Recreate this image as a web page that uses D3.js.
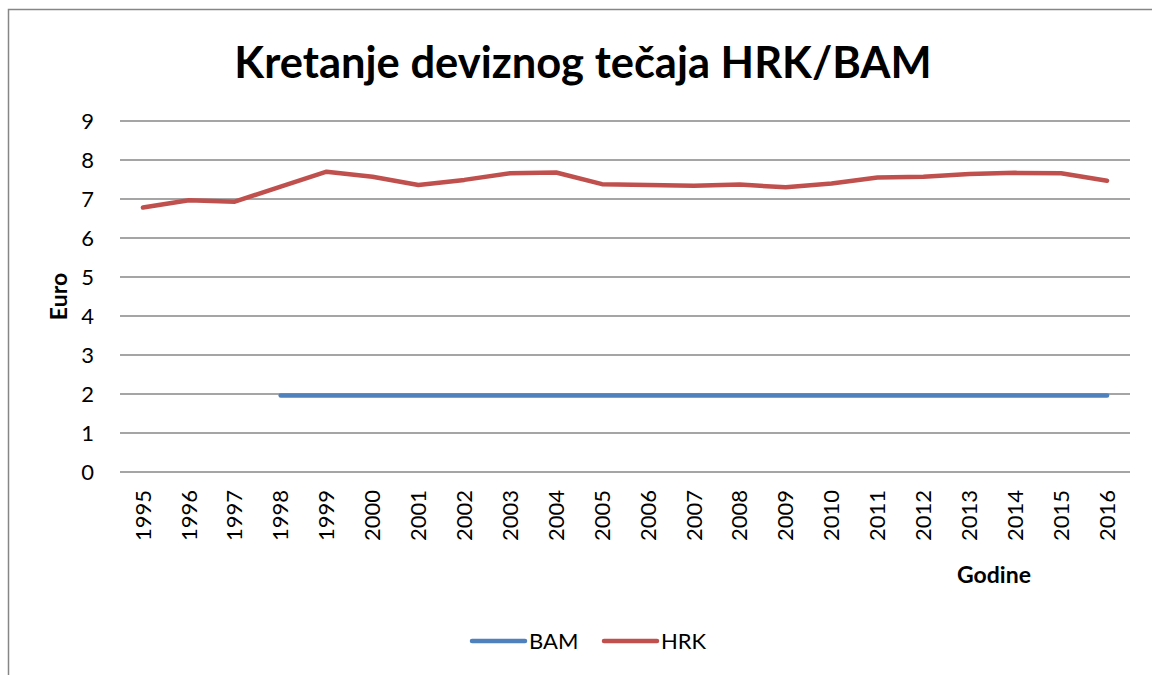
<!DOCTYPE html>
<html>
<head>
<meta charset="utf-8">
<script src="https://cdn.jsdelivr.net/npm/d3@7"></script>
<style>
  body { margin: 0; background: #fff; }
  text { font-family: Lato, "Open Sans", sans-serif; fill: #000; }
</style>
</head>
<body>
<script>
const years = ['1995','1996','1997','1998','1999','2000','2001','2002','2003','2004','2005',
               '2006','2007','2008','2009','2010','2011','2012','2013','2014','2015','2016']
const hrk = [6.78,6.97,6.93,7.32,7.70,7.57,7.36,7.49,7.66,7.68,7.38,
             7.36,7.34,7.37,7.30,7.40,7.55,7.57,7.64,7.67,7.66,7.47]
// BAM is pegged from 1998 on, nothing before
const bam = [null,null,null,1.96,1.96,1.96,1.96,1.96,1.96,1.96,1.96,
             1.96,1.96,1.96,1.96,1.96,1.96,1.96,1.96,1.96,1.96,1.96]
const yTicks = [0,1,2,3,4,5,6,7,8,9]
const seriesNames = ['BAM','HRK']
const colors = {BAM:'#4F81BD', HRK:'#C0504D'}

const W = 1152, H = 675
const margin = {top:121, right:22, bottom:203, left:120}
const width = W - margin.left - margin.right
const height = H - margin.top - margin.bottom

const svg = d3.select('body').append('svg')
      .attr('width', W)
      .attr('height', H)

// outer chart frame (runs off the right and bottom edges)
svg.append('rect')
  .attr('x', 8.5).attr('y', 9.5)
  .attr('width', 1300).attr('height', 800)
  .attr('fill', 'none')
  .attr('stroke', '#868686')
  .attr('stroke-width', 1.5)

svg.append('text')
  .attr('x', 583).attr('y', 78)
  .attr('text-anchor', 'middle')
  .style('font-size', '43.5px')
  .style('font-weight', 'bold')
  .text('Kretanje deviznog tečaja HRK/BAM')

const g = svg.append('g')
  .attr('transform', 'translate(' + margin.left + ',' + margin.top + ')')

const x = d3.scaleBand().domain(years).range([0, width])
const y = d3.scaleLinear().domain([0, 9]).range([height, 0])

// gridlines
g.append('g')
  .selectAll('line')
  .data(yTicks)
  .enter().append('line')
    .attr('x1', 0).attr('x2', width)
    .attr('y1', d => y(d)).attr('y2', d => y(d))
    .attr('stroke', '#878787')
    .attr('stroke-width', 1.5)

const yAxis = g.append('g')
  .call(d3.axisLeft(y).tickValues(yTicks).tickSize(0).tickPadding(26))
yAxis.select('.domain').remove()
yAxis.selectAll('text')
  .style('font-size', '22px')
  .style('font-family', 'Lato, sans-serif')

const xAxis = g.append('g')
  .attr('transform', 'translate(0,' + height + ')')
  .call(d3.axisBottom(x).tickSize(0))
xAxis.select('.domain').remove()
xAxis.selectAll('text')
  .style('font-size', '22px')
  .style('font-family', 'Lato, sans-serif')
  .attr('transform', 'rotate(-90)')
  .attr('text-anchor', 'end')
  .attr('x', -18)
  .attr('y', 0)
  .attr('dy', '0.35em')

svg.append('text')
  .attr('transform', 'translate(67,' + (margin.top + height/2) + ') rotate(-90)')
  .attr('text-anchor', 'middle')
  .style('font-size', '23px')
  .style('font-weight', 'bold')
  .text('Euro')

svg.append('text')
  .attr('x', 994).attr('y', 583)
  .attr('text-anchor', 'middle')
  .style('font-size', '23px')
  .style('font-weight', 'bold')
  .text('Godine')

const line = d3.line()
  .defined(d => d != null)
  .x((d, i) => x(years[i]) + x.bandwidth()/2)
  .y(d => y(d))

const data = {BAM: bam, HRK: hrk}
seriesNames.forEach(function (name) {
  g.append('path')
    .datum(data[name])
    .attr('d', line)
    .attr('fill', 'none')
    .attr('stroke', colors[name])
    .attr('stroke-width', 4.5)
    .attr('stroke-linecap', 'round')
    .attr('stroke-linejoin', 'round')
})

// legend
const legend = svg.append('g')
  .selectAll('g')
  .data(seriesNames)
  .enter().append('g')
    .attr('transform', (d, i) => 'translate(' + (472 + i*132) + ',641)')
legend.append('line')
  .attr('x1', 0).attr('x2', 53)
  .attr('stroke', d => colors[d])
  .attr('stroke-width', 4.5)
  .attr('stroke-linecap', 'round')
legend.append('text')
  .attr('x', 57)
  .attr('dy', '0.35em')
  .style('font-size', '22px')
  .text(d => d)
</script>
</body>
</html>
